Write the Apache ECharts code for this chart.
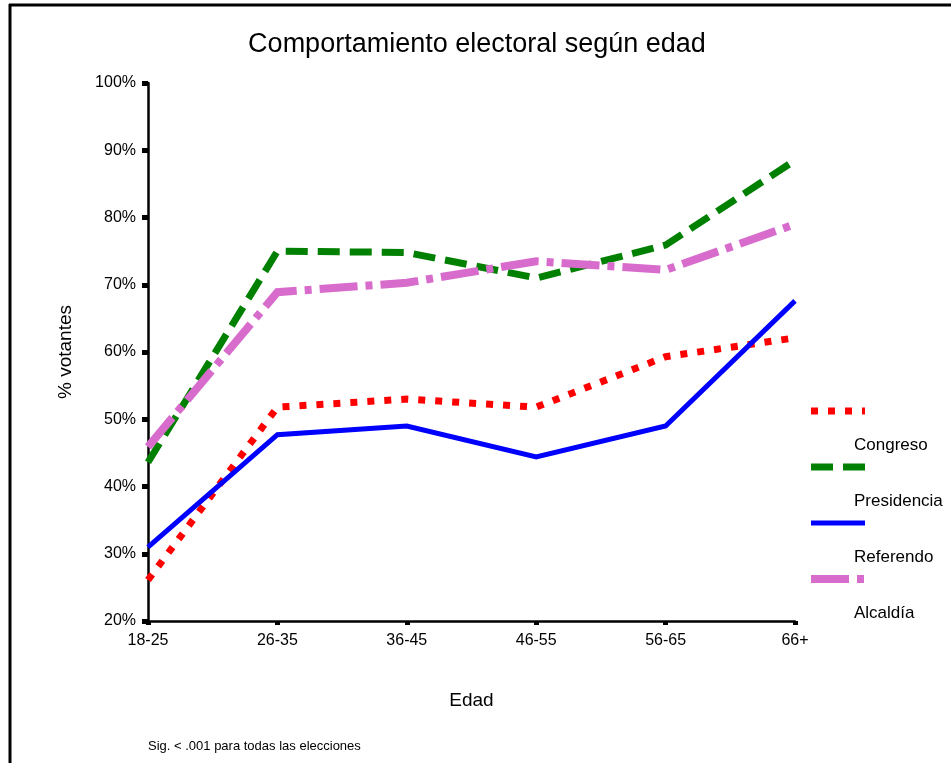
<!DOCTYPE html>
<html>
<head>
<meta charset="utf-8">
<script src="https://cdn.jsdelivr.net/npm/echarts@6/dist/echarts.min.js"></script>
<style>
html,body{margin:0;padding:0;background:#fff;}
#chart{width:951px;height:763px;}
</style>
</head>
<body>
<div id="chart"></div>
<script>
const categories = ['18-25', '26-35', '36-45', '46-55', '56-65', '66+'];
const congreso    = [26.1, 51.8, 53.0, 51.8, 59.3, 62.1];
const presidencia = [43.6, 75.0, 74.8, 71.0, 75.9, 88.5];
const referendo   = [31.0, 47.7, 49.0, 44.4, 49.0, 67.6];
const alcaldia    = [45.9, 68.9, 70.3, 73.5, 72.2, 79.0];
const seriesNames = ['Congreso', 'Presidencia', 'Referendo', 'Alcaldía'];

const FONT = '"Liberation Sans", Arial, sans-serif';
const chart = echarts.init(document.getElementById('chart'));

const styles = [
  { color: '#ff0000', width: 7, type: [7, 10] },
  { color: '#008000', width: 7, type: [22, 10] },
  { color: '#0000ff', width: 5, type: 'solid' },
  { color: '#d86ccc', width: 8, type: [38, 8, 7, 8] }
];
const dataSets = [congreso, presidencia, referendo, alcaldia];

chart.setOption({
  animation: false,
  backgroundColor: '#ffffff',
  title: {
    text: 'Comportamiento electoral según edad',
    left: 472, textAlign: 'center', top: 26,
    textStyle: { fontFamily: FONT, fontSize: 27, fontWeight: 'normal', color: '#000' }
  },
  grid: { left: 148, right: 156, top: 83, bottom: 142 },
  legend: {
    orient: 'vertical',
    left: 807, top: 343,
    padding: 0,
    itemWidth: 54, itemHeight: 8,
    itemGap: -80,
    formatter: function (name) { return '\n' + name; },
    itemStyle: { opacity: 0 },
    textStyle: { fontFamily: FONT, fontSize: 17, color: '#000', lineHeight: 68, padding: [0, 0, 0, -16] },
    data: seriesNames.map((n, i) => ({
      name: n,
      itemStyle: { opacity: 0 },
      lineStyle: { color: styles[i].color, width: styles[i].width, type: styles[i].type }
    }))
  },
  xAxis: {
    type: 'category',
    data: categories,
    boundaryGap: false,
    name: 'Edad', nameLocation: 'middle', nameGap: 70,
    nameTextStyle: { fontFamily: FONT, fontSize: 19, color: '#000' },
    axisLine: { lineStyle: { color: '#000', width: 2.5 } },
    axisTick: { show: true, length: 4, lineStyle: { color: '#000', width: 5 } },
    axisLabel: { fontFamily: FONT, fontSize: 16, color: '#000', margin: 12 },
    splitLine: { show: false }
  },
  yAxis: {
    type: 'value',
    min: 20, max: 100, interval: 10,
    name: '% votantes', nameLocation: 'middle', nameGap: 73, nameRotate: 90,
    nameTextStyle: { fontFamily: FONT, fontSize: 19, color: '#000' },
    axisLine: { show: true, lineStyle: { color: '#000', width: 2.5 } },
    axisTick: { show: true, length: 6, lineStyle: { color: '#000', width: 5 } },
    axisLabel: { fontFamily: FONT, fontSize: 16, color: '#000', margin: 12, formatter: '{value}%' },
    splitLine: { show: false }
  },
  series: seriesNames.map((n, i) => ({
    name: n,
    type: 'line',
    data: dataSets[i],
    symbol: 'none',
    lineStyle: { color: styles[i].color, width: styles[i].width, type: styles[i].type, cap: 'butt', join: 'miter' },
    itemStyle: { color: styles[i].color }
  })),
  graphic: [
    { type: 'line', shape: { x1: 9, y1: 5, x2: 951, y2: 5 }, style: { stroke: '#000', lineWidth: 3 } },
    { type: 'line', shape: { x1: 10, y1: 4, x2: 10, y2: 763 }, style: { stroke: '#000', lineWidth: 3 } },
    { type: 'text', left: 148, top: 740, style: { text: 'Sig. < .001 para todas las elecciones', font: '13px ' + FONT, fill: '#000' } }
  ]
});
</script>
</body>
</html>
